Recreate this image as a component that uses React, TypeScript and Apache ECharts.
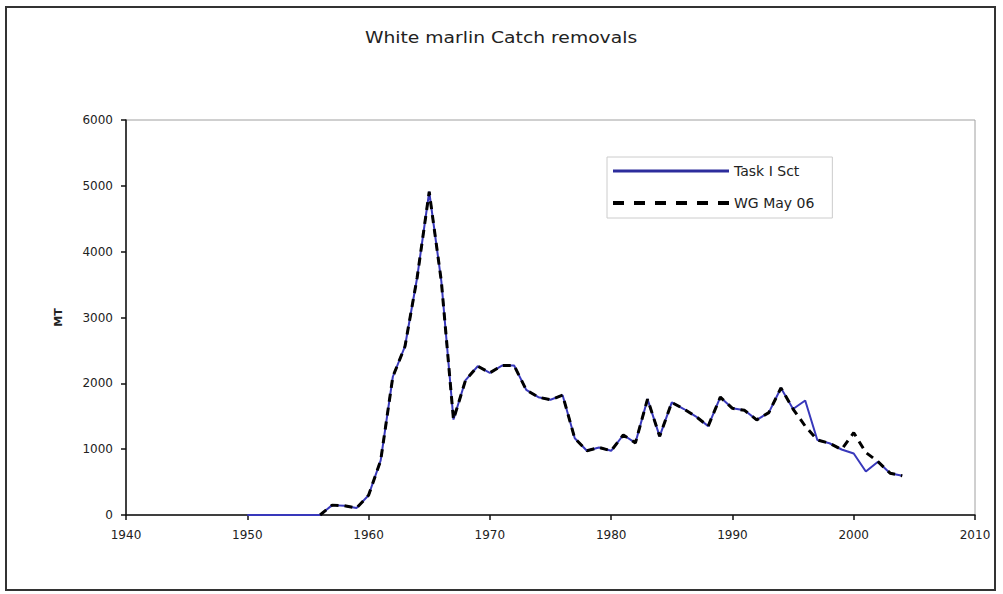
import React, { useEffect, useRef } from "react";
import * as echarts from "echarts";

const years = [
  1950, 1951, 1952, 1953, 1954, 1955, 1956, 1957, 1958, 1959,
  1960, 1961, 1962, 1963, 1964, 1965, 1966, 1967, 1968, 1969,
  1970, 1971, 1972, 1973, 1974, 1975, 1976, 1977, 1978, 1979,
  1980, 1981, 1982, 1983, 1984, 1985, 1986, 1987, 1988, 1989,
  1990, 1991, 1992, 1993, 1994, 1995, 1996, 1997, 1998, 1999,
  2000, 2001, 2002, 2003, 2004,
];

const taskISct = [
  0, 0, 0, 0, 0, 0, 0, 150, 140, 105,
  300, 830, 2100, 2560, 3600, 4910, 3550, 1450, 2050, 2260,
  2160, 2270, 2270, 1900, 1790, 1750, 1820, 1165, 975, 1025,
  975, 1215, 1095, 1760, 1195, 1710, 1610, 1495, 1350, 1790,
  1620, 1590, 1445, 1555, 1930, 1610, 1740, 1140, 1090, 995,
  935, 660, 810, 635, 595,
];

const wgMay06 = [
  null, null, null, null, null, null, 0, 150, 140, 105,
  300, 830, 2100, 2560, 3600, 4910, 3550, 1450, 2050, 2260,
  2160, 2270, 2270, 1900, 1790, 1750, 1820, 1165, 975, 1025,
  975, 1215, 1095, 1760, 1195, 1710, 1610, 1495, 1350, 1790,
  1620, 1590, 1445, 1555, 1930, 1610, 1350, 1140, 1090, 995,
  1250, 950, 810, 635, 595,
];

const seriesNames = ["Task I Sct", "WG May 06"];
const titleText = "White marlin Catch removals";
const yAxisName = "MT";

export default function App() {
  const ref = useRef<HTMLDivElement>(null);

  useEffect(() => {
    if (!ref.current) return;
    const chart = echarts.init(ref.current, null, { renderer: "svg" });
    const font = "DejaVu Sans";
    chart.setOption({
      animation: false,
      backgroundColor: "#ffffff",
      graphic: [
        {
          type: "rect",
          shape: { x: 6, y: 7, width: 989, height: 583 },
          style: { fill: "none", stroke: "#333", lineWidth: 2 },
          silent: true,
        },
        {
          type: "text",
          x: 501,
          y: 38,
          scaleX: 1.25,
          style: {
            text: titleText,
            fontFamily: font,
            fontSize: 15,
            fill: "#222",
            align: "center",
            verticalAlign: "middle",
          },
          silent: true,
        },
      ],
      legend: {
        orient: "vertical",
        left: 607,
        top: 157,
        itemWidth: 116,
        itemHeight: 14,
        itemGap: 18,
        padding: [7, 18, 8, 4],
        borderColor: "#cccccc",
        borderWidth: 1,
        itemStyle: { opacity: 0 },
        textStyle: { fontFamily: font, fontSize: 14, color: "#222" },
        data: [
          { name: seriesNames[0], lineStyle: { color: "#2c2c9c", width: 3 } },
          { name: seriesNames[1], lineStyle: { color: "#000000", width: 4, type: [11, 10] } },
        ],
      },
      grid: {
        left: 126,
        right: 28,
        top: 120,
        bottom: 79,
        show: true,
        borderColor: "#a0a0a0",
        borderWidth: 1,
        backgroundColor: "#ffffff",
      },
      xAxis: {
        type: "value",
        min: 1940,
        max: 2010,
        interval: 10,
        axisLine: { lineStyle: { color: "#111", width: 1.5 } },
        axisTick: { show: true, length: 5, lineStyle: { color: "#111", width: 1.5 } },
        axisLabel: {
          margin: 14,
          fontFamily: font,
          fontSize: 12,
          color: "#222",
          formatter: (v: number) => String(v),
        },
        splitLine: { show: false },
      },
      yAxis: {
        type: "value",
        min: 0,
        max: 6000,
        interval: 1000,
        name: yAxisName,
        nameLocation: "middle",
        nameGap: 62,
        nameRotate: 90,
        nameTextStyle: { fontFamily: font, fontSize: 11, fontWeight: "bold", color: "#222" },
        axisLine: { show: true, lineStyle: { color: "#111", width: 1.5 } },
        axisTick: { show: true, length: 5, lineStyle: { color: "#111", width: 1.5 } },
        axisLabel: {
          margin: 13,
          fontFamily: font,
          fontSize: 12,
          color: "#222",
          formatter: (v: number) => String(v),
        },
        splitLine: { show: false },
      },
      series: [
        {
          name: seriesNames[0],
          type: "line",
          data: years.map((y, i) => [y, taskISct[i]]),
          showSymbol: false,
          symbol: "none",
          color: "#3838bb",
          lineStyle: { color: "#3838bb", width: 2 },
          z: 2,
        },
        {
          name: seriesNames[1],
          type: "line",
          data: years.map((y, i) => [y, wgMay06[i]]).filter((d) => d[1] !== null),
          showSymbol: false,
          symbol: "none",
          color: "#000000",
          lineStyle: { color: "#000000", width: 3, type: [8, 6] },
          z: 3,
        },
      ],
    });
    return () => chart.dispose();
  }, []);

  return (
    <div
      ref={ref}
      style={{ position: "fixed", left: 0, top: 0, width: 1003, height: 594 }}
    />
  );
}
